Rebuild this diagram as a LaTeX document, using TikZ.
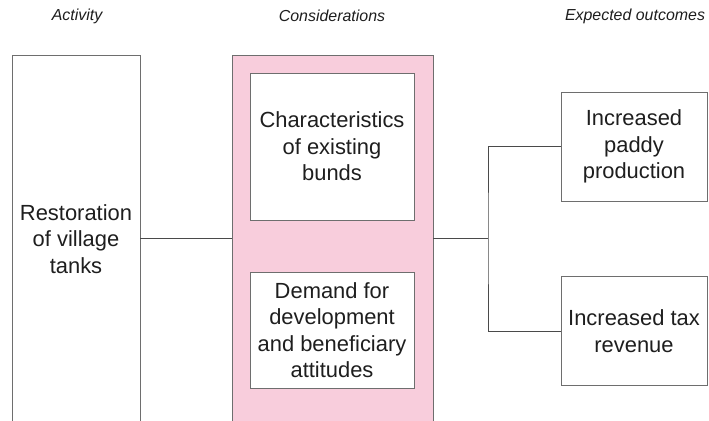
\documentclass[tikz,border=0pt]{standalone}
\usepackage{fontspec}
\setmainfont{Liberation Sans}
\definecolor{textc}{HTML}{1E1E1E}
\definecolor{boxgray}{HTML}{6E6E6E}
\definecolor{linegray}{HTML}{4A4A4A}
\definecolor{pinkc}{RGB}{248,205,220}
\begin{document}
\begin{tikzpicture}[x=1bp,y=-1bp,
  box/.style={draw=boxgray, line width=0.9bp, fill=white, align=center, inner sep=0pt,
    font=\fontsize{22}{26.5}\selectfont, text=textc},
  hdr/.style={font=\fontsize{16}{19}\selectfont\itshape, text=textc, inner sep=0pt},
  conn/.style={draw=linegray, line width=0.9bp}]
\useasboundingbox (0,0) rectangle (709,420);
\clip (0,0) rectangle (709,420);
\fill[white] (0,0) rectangle (709,420);
% headers
\node[hdr] (h1) at (77,16) {Activity};
\node[hdr] (h2) at (332,16) {Considerations};
\node[hdr] (h3) at (635,16) {Expected outcomes};
% boxes
\node[box, minimum width=128bp, minimum height=368bp] (act) at (76,239) {Restoration\\of village\\tanks};
\node[box, fill=pinkc, minimum width=201bp, minimum height=368bp] (cons) at (332.5,239) {};
\node[box, minimum width=164bp, minimum height=147bp] (c1) at (332,146.5) {Characteristics\\of existing\\bunds};
\node[box, minimum width=164bp, minimum height=116bp] (c2) at (332,330) {Demand for\\development\\and beneficiary\\attitudes};
\node[box, minimum width=146bp, minimum height=109bp] (o1) at (634,146.5) {Increased\\paddy\\production};
\node[box, minimum width=146bp, minimum height=109bp] (o2) at (634,331) {Increased tax\\revenue};
% connectors
\coordinate (j) at (488,238);
\draw[conn] (act.east |- 0,238) -- (cons.west |- 0,238);
\draw[conn] (cons.east |- j) -- (j);
\draw[conn] (o1.west) -| (j) |- (o2.west);
\end{tikzpicture}
\end{document}
